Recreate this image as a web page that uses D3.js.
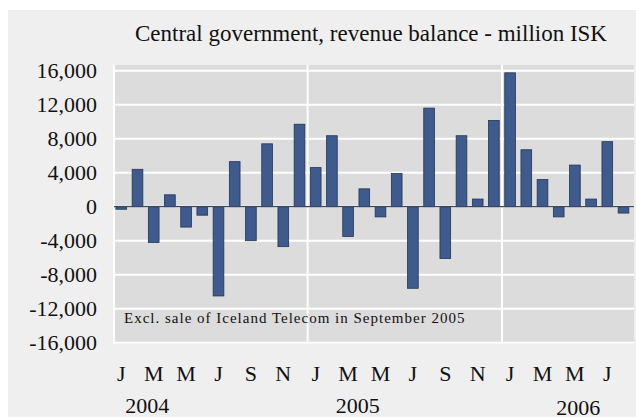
<!DOCTYPE html>
<html>
<head>
<meta charset="utf-8">
<script src="https://cdn.jsdelivr.net/npm/d3@7"></script>
<style>
  html, body { margin: 0; padding: 0; background: #fff; }
  svg { display: block; font-family: "Liberation Serif", "DejaVu Serif", serif; }
</style>
</head>
<body>
<div id="chart"></div>
<script>
/* Central government, revenue balance - monthly, million ISK, Jan 2004 - Aug 2006 */
const years = [2004, 2005, 2006];
const monthLetters = ["J", "F", "M", "A", "M", "J", "J", "A", "S", "O", "N", "D"];
const values2004 = [-300, 4400, -4200, 1400, -2400, -1000, -10500, 5300, -4000, 7400, -4700, 9700];
const values2005 = [4600, 8350, -3500, 2100, -1200, 3900, -9600, 11600, -6100, 8350, 900, 10150];
const values2006 = [15750, 6700, 3200, -1200, 4900, 900, 7650, -750];
const yTicks = [16000, 12000, 8000, 4000, 0, -4000, -8000, -12000, -16000];
const yearLabelAt = [1.6, 14.6, 28.2];   // month index the year label is centred on
const note = "Excl. sale of Iceland Telecom in September 2005";
const title = "Central government, revenue balance - million ISK";

const series = [values2004, values2005, values2006];
const data = [];
series.forEach((vals, yi) => vals.forEach((v, m) => data.push({ i: data.length, year: years[yi], m, v })));

const W = 636, H = 418;
const plot = { left: 114, right: 634, top: 65, bottom: 344 };

const svg = d3.select("#chart").append("svg").attr("width", W).attr("height", H);

// outer panel + plot area
svg.append("rect").attr("x", 8).attr("y", 10).attr("width", W - 8).attr("height", 407).attr("fill", "#efefef");
svg.append("rect").attr("x", plot.left).attr("y", plot.top)
  .attr("width", plot.right - plot.left).attr("height", plot.bottom - plot.top).attr("fill", "#dcdcdc");

const x = d3.scaleBand().domain(data.map((d) => d.i)).range([113.2, 631.6]).paddingInner(0.34).paddingOuter(0.17);
const y = d3.scaleLinear().domain([-16000, 16000]).range([342.7, 70.7]);
const step = x.step();

// gridlines
svg.append("g").selectAll("line").data(yTicks).join("line")
  .attr("x1", plot.left).attr("x2", plot.right)
  .attr("y1", (d) => y(d)).attr("y2", (d) => y(d))
  .attr("stroke", "#fff").attr("stroke-width", 2);

// vertical lines at the plot edge and at each new year
const yearStarts = data.filter((d) => d.m === 0 && d.i > 0).map((d) => x(d.i) - step * x.paddingInner() / 2);
svg.append("g").selectAll("line").data([plot.left].concat(yearStarts)).join("line")
  .attr("x1", (d) => d).attr("x2", (d) => d)
  .attr("y1", plot.top).attr("y2", plot.bottom)
  .attr("stroke", "#fff").attr("stroke-width", 2);

// bars
svg.append("g").selectAll("rect").data(data).join("rect")
  .attr("x", (d) => x(d.i))
  .attr("width", x.bandwidth())
  .attr("y", (d) => y(Math.max(0, d.v)))
  .attr("height", (d) => Math.abs(y(d.v) - y(0)))
  .attr("fill", "#3f5a8c").attr("stroke", "#243556").attr("stroke-width", 0.8);

// zero line
svg.append("line").attr("x1", plot.left).attr("x2", plot.right)
  .attr("y1", y(0)).attr("y2", y(0)).attr("stroke", "#3a4560").attr("stroke-width", 1.2);

// y tick labels
svg.append("g").selectAll("text").data(yTicks).join("text")
  .attr("x", 97).attr("y", (d) => y(d)).attr("dy", "0.35em")
  .attr("text-anchor", "end").attr("font-size", 22).attr("fill", "#111")
  .text((d) => d3.format(",")(d).replace("−", "-"));

// month labels every other month
svg.append("g").selectAll("text").data(data.filter((d) => d.m % 2 === 0)).join("text")
  .attr("x", (d) => x(d.i) + x.bandwidth() / 2).attr("y", 381)
  .attr("text-anchor", "middle").attr("font-size", 22).attr("fill", "#111")
  .text((d) => monthLetters[d.m]);

// year labels
svg.append("g").selectAll("text").data(years).join("text")
  .attr("x", (d, i) => x(0) + x.bandwidth() / 2 + yearLabelAt[i] * step)
  .attr("y", (d, i) => (i === 2 ? 414.5 : 413))
  .attr("text-anchor", "middle").attr("font-size", 22).attr("fill", "#111")
  .text((d) => d);

// note
svg.append("text").attr("x", 124).attr("y", 322.5)
  .attr("font-size", 15).attr("letter-spacing", 1).attr("fill", "#111").text(note);

// title
svg.append("text").attr("x", 371).attr("y", 41)
  .attr("text-anchor", "middle").attr("font-size", 23).attr("fill", "#111").text(title);
</script>
</body>
</html>
